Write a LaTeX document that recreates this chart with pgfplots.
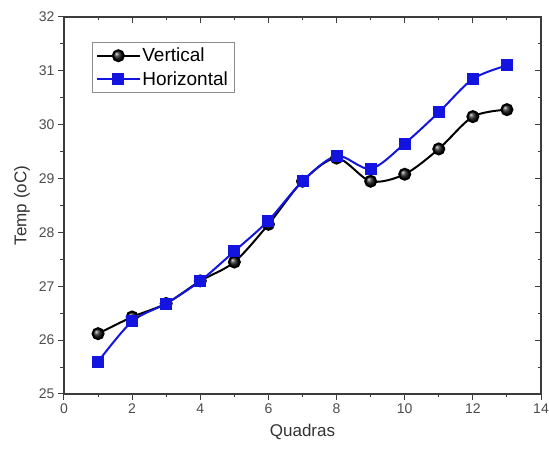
\documentclass[border=0pt]{standalone}
\usepackage{pgfplots}
\pgfplotsset{compat=1.18}
\usepackage{fontspec}
\setmainfont{Liberation Sans}
\definecolor{hblue}{RGB}{20,20,225}
\definecolor{axgray}{RGB}{60,60,60}

\begin{document}
\begin{tikzpicture}
\pgfplotsset{
  common/.style={
    scale only axis, width=477pt, height=377pt,
    xmin=0, xmax=14, ymin=25, ymax=32,
    xtick={0,2,...,14}, ytick={25,...,32},
    minor x tick num=1, minor y tick num=1,
    axis line style={axgray, line width=1.2pt},
    major tick length=6pt, minor tick length=3.5pt,
    every tick/.style={axgray, line width=1pt},
    tick label style={font=\fontsize{14}{16}\selectfont, text=black!70},
    /pgf/number format/assume math mode=true,
  }
}
\begin{axis}[common, name=ax,
  tick align=outside, xtick pos=bottom, ytick pos=left,
  xlabel={Quadras}, ylabel={Temp (oC)},
  label style={font=\fontsize{17}{19}\selectfont, text=black!80},
  xlabel style={yshift=-4pt}, ylabel style={yshift=2pt},
  legend style={at={(0.059,0.934)}, anchor=north west, draw=black!45,
    font=\fontsize{19}{21}\selectfont, row sep=4pt, inner sep=4pt},
  legend cell align=left,
  legend image code/.code={\draw[mark repeat=2, mark phase=2]
    plot coordinates {(0pt,0pt) (21pt,0pt) (42pt,0pt)};},
]
\addplot[smooth, black, line width=2pt, mark=ball,
  mark options={ball color=black!85, draw=none}, mark size=5.5pt]
  coordinates {(1,26.12) (2,26.43) (3,26.68) (4,27.10) (5,27.45) (6,28.15)
    (7,28.95) (8,29.38) (9,28.95) (10,29.08) (11,29.55) (12,30.15) (13,30.28)};
\addlegendentry{Vertical}
\addplot[smooth, hblue, line width=2pt, mark=square*,
  mark options={fill=hblue, draw=hblue}, mark size=5pt]
  coordinates {(1,25.60) (2,26.35) (3,26.68) (4,27.10) (5,27.65) (6,28.22)
    (7,28.95) (8,29.42) (9,29.18) (10,29.65) (11,30.23) (12,30.85) (13,31.10)};
\addlegendentry{Horizontal}
\end{axis}
\begin{axis}[common, tick align=inside, xtick pos=top, ytick pos=right,
  xticklabels={}, yticklabels={}]
\end{axis}
\pgfresetboundingbox
\path ([xshift=-64pt,yshift=-56pt]ax.south west) rectangle ([xshift=8pt,yshift=17pt]ax.north east);
\end{tikzpicture}
\end{document}
